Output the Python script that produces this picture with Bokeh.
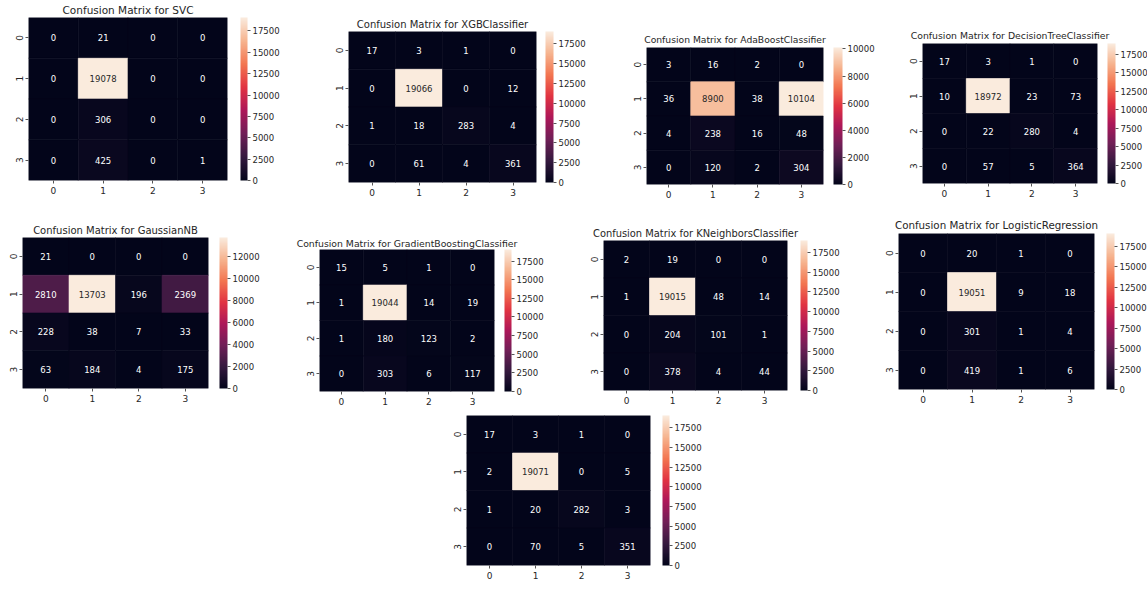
import numpy as np
from bokeh.plotting import figure
from bokeh.models import (ColumnDataSource, LinearColorMapper, ColorBar,
                          FixedTicker, Range1d, Spacer)
from bokeh.layouts import row, column
from bokeh.transform import transform
from bokeh.core.properties import value
from bokeh.embed import file_html
from bokeh.resources import INLINE

# ---------------- data ----------------
class_labels = ["0", "1", "2", "3"]

titles = [
    "Confusion Matrix for SVC",
    "Confusion Matrix for XGBClassifier",
    "Confusion Matrix for AdaBoostClassifier",
    "Confusion Matrix for DecisionTreeClassifier",
    "Confusion Matrix for GaussianNB",
    "Confusion Matrix for GradientBoostingClassifier",
    "Confusion Matrix for KNeighborsClassifier",
    "Confusion Matrix for LogisticRegression",
    None,
]

cm_svc = [[0, 21, 0, 0], [0, 19078, 0, 0], [0, 306, 0, 0], [0, 425, 0, 1]]
cm_xgb = [[17, 3, 1, 0], [0, 19066, 0, 12], [1, 18, 283, 4], [0, 61, 4, 361]]
cm_ada = [[3, 16, 2, 0], [36, 8900, 38, 10104], [4, 238, 16, 48], [0, 120, 2, 304]]
cm_dt = [[17, 3, 1, 0], [10, 18972, 23, 73], [0, 22, 280, 4], [0, 57, 5, 364]]
cm_gnb = [[21, 0, 0, 0], [2810, 13703, 196, 2369], [228, 38, 7, 33], [63, 184, 4, 175]]
cm_gb = [[15, 5, 1, 0], [1, 19044, 14, 19], [1, 180, 123, 2], [0, 303, 6, 117]]
cm_knn = [[2, 19, 0, 0], [1, 19015, 48, 14], [0, 204, 101, 1], [0, 378, 4, 44]]
cm_lr = [[0, 20, 1, 0], [0, 19051, 9, 18], [0, 301, 1, 4], [0, 419, 1, 6]]
cm_last = [[17, 3, 1, 0], [2, 19071, 0, 5], [1, 20, 282, 3], [0, 70, 5, 351]]

matrices = [cm_svc, cm_xgb, cm_ada, cm_dt, cm_gnb, cm_gb, cm_knn, cm_lr, cm_last]

ticks_2500 = [0, 2500, 5000, 7500, 10000, 12500, 15000, 17500]
ticks_ada = [0, 2000, 4000, 6000, 8000, 10000]
ticks_gnb = [0, 2000, 4000, 6000, 8000, 10000, 12000]
cbar_ticks = [ticks_2500, ticks_2500, ticks_ada, ticks_2500, ticks_gnb,
              ticks_2500, ticks_2500, ticks_2500, ticks_2500]

# ---------------- layout / style ----------------
FONT = "DejaVu Sans"
TXT = "#262626"
PAGE = 0
PAGE_W = 1147

# (frame_left, frame_top, frame_w, frame_h, cb_gap, cb_w, title_px, title_standoff,
#  m_left, m_top, m_bottom)
specs = [
    (28, 17, 199, 163, 13, 7, 10.5, 3, 20, 17, 18),
    (348, 31, 188, 151, 9, 8, 10, 4, 20, 18, 18),
    (646, 47, 177, 137, 10, 9, 9.2, 5, 20, 19, 18),
    (922, 43, 175, 140, 10, 8, 9.3, 5, 20, 19, 18),
    (22, 237, 186, 151, 11, 8, 10, 3, 20, 18, 16),
    (319, 249, 175, 142, 10, 7, 9.3, 2, 30, 16, 16),
    (603, 240, 184, 150, 13, 7, 9.9, 3, 20, 18, 16),
    (898, 233, 196, 156, 12, 8, 10.3, 5, 20, 20, 16),
    (466, 415, 184, 150, 12, 7, None, 0, 20, 4, 18),
]
rows_idx = [[0, 1, 2, 3], [4, 5, 6, 7], [8]]
row_starts = [0, 205, 408]
row_ends = [205, 408, 583]


def rocket(n=256):
    anchors = ["#03051a", "#35193e", "#701f57", "#ad1759",
               "#e13342", "#f37651", "#f6b48f", "#faebdd"]
    rgb = np.array([[int(a[i:i + 2], 16) for i in (1, 3, 5)] for a in anchors], float)
    pos = np.linspace(0, 1, len(anchors))
    t = np.linspace(0, 1, n)
    return np.stack([np.interp(t, pos, rgb[:, k]) for k in range(3)], axis=1)


ROCKET_RGB = rocket()
ROCKET = ["#%02x%02x%02x" % tuple(int(round(c)) for c in r) for r in ROCKET_RGB]


def text_color(rgb):
    c = np.asarray(rgb) / 255.0
    c = np.where(c <= 0.03928, c / 12.92, ((c + 0.055) / 1.055) ** 2.4)
    lum = 0.2126 * c[0] + 0.7152 * c[1] + 0.0722 * c[2]
    return TXT if lum > 0.408 else "#ffffff"


def make_panel(mat, title, spec, ticks):
    fl, ft, fw, fh, gap, cbw, tsize, tstand, ml, mt, mb = spec
    mr = min(gap + cbw + 34, PAGE_W - (fl + fw))
    vmax = max(max(r) for r in mat)
    mapper = LinearColorMapper(palette=ROCKET, low=0, high=vmax)
    xs, ys, vs, txt, tcol = [], [], [], [], []
    for i, r in enumerate(mat):
        for j, v in enumerate(r):
            xs.append(j)
            ys.append(i)
            vs.append(v)
            txt.append(str(v))
            idx = min(len(ROCKET) - 1, int(v / vmax * len(ROCKET)))
            tcol.append(text_color(ROCKET_RGB[idx]))
    src = ColumnDataSource(dict(x=xs, y=ys, v=vs, t=txt, c=tcol))
    kw = dict(title=title) if title else {}
    p = figure(width=ml + fw + mr, height=mt + fh + mb,
               x_range=Range1d(-0.5, 3.5), y_range=Range1d(3.5, -0.5),
               output_backend="svg", toolbar_location=None,
               min_border_left=ml, min_border_right=mr,
               min_border_top=mt, min_border_bottom=mb, **kw)
    p.rect("x", "y", 1, 1, source=src, fill_color=transform("v", mapper),
           line_color=transform("v", mapper), line_width=0.6)
    p.text("x", "y", text="t", source=src, text_color="c",
           text_align="center", text_baseline="middle",
           text_font=value(FONT), text_font_size="8.5px")
    p.grid.visible = False
    p.outline_line_color = None
    for ax in (p.xaxis, p.yaxis):
        ax.ticker = FixedTicker(ticks=[0, 1, 2, 3])
        ax.major_label_overrides = {k: class_labels[k] for k in range(4)}
        ax.axis_line_color = None
        ax.minor_tick_line_color = None
        ax.major_tick_line_color = "#555555"
        ax.major_tick_in = 0
        ax.major_tick_out = 3
        ax.major_label_standoff = 3
        ax.major_label_text_font = FONT
        ax.major_label_text_font_size = "9px"
        ax.major_label_text_color = TXT
    p.yaxis.major_label_orientation = "vertical"
    if title:
        p.title.text_font = FONT
        p.title.text_font_size = f"{tsize}px"
        p.title.text_font_style = "normal"
        p.title.text_color = TXT
        p.title.align = "center"
        p.title.standoff = tstand
    cb = ColorBar(color_mapper=mapper, ticker=FixedTicker(ticks=ticks),
                  location=(fw + gap, 0), width=cbw, height=fh,
                  padding=0, margin=0,
                  bar_line_color=None, border_line_color=None,
                  background_fill_color=None,
                  major_tick_line_color="#555555", major_tick_in=0,
                  major_tick_out=3, label_standoff=2,
                  major_label_text_font=FONT,
                  major_label_text_font_size="8.5px",
                  major_label_text_color=TXT)
    p.add_layout(cb, "center")
    return p, fl - PAGE - ml, ft - PAGE - mt


panels = [make_panel(m, t, s, tk) for m, t, s, tk in
          zip(matrices, titles, specs, cbar_ticks)]

rows = []
for ids, y0, y1 in zip(rows_idx, row_starts, row_ends):
    children = []
    cur = 0
    rh = y1 - y0
    for k in ids:
        p, ol, ot = panels[k]
        ot -= y0
        if ol > cur:
            children.append(Spacer(width=ol - cur, height=rh))
        parts = []
        if ot > 0:
            parts.append(Spacer(width=p.width, height=ot))
        parts.append(p)
        rest = rh - max(ot, 0) - p.height
        if rest > 0:
            parts.append(Spacer(width=p.width, height=rest))
        children.append(column(parts, spacing=0))
        cur = ol + p.width
    rows.append(row(children, spacing=0))

layout = column(rows, spacing=0)

open("out.html", "w").write(file_html(layout, INLINE))
